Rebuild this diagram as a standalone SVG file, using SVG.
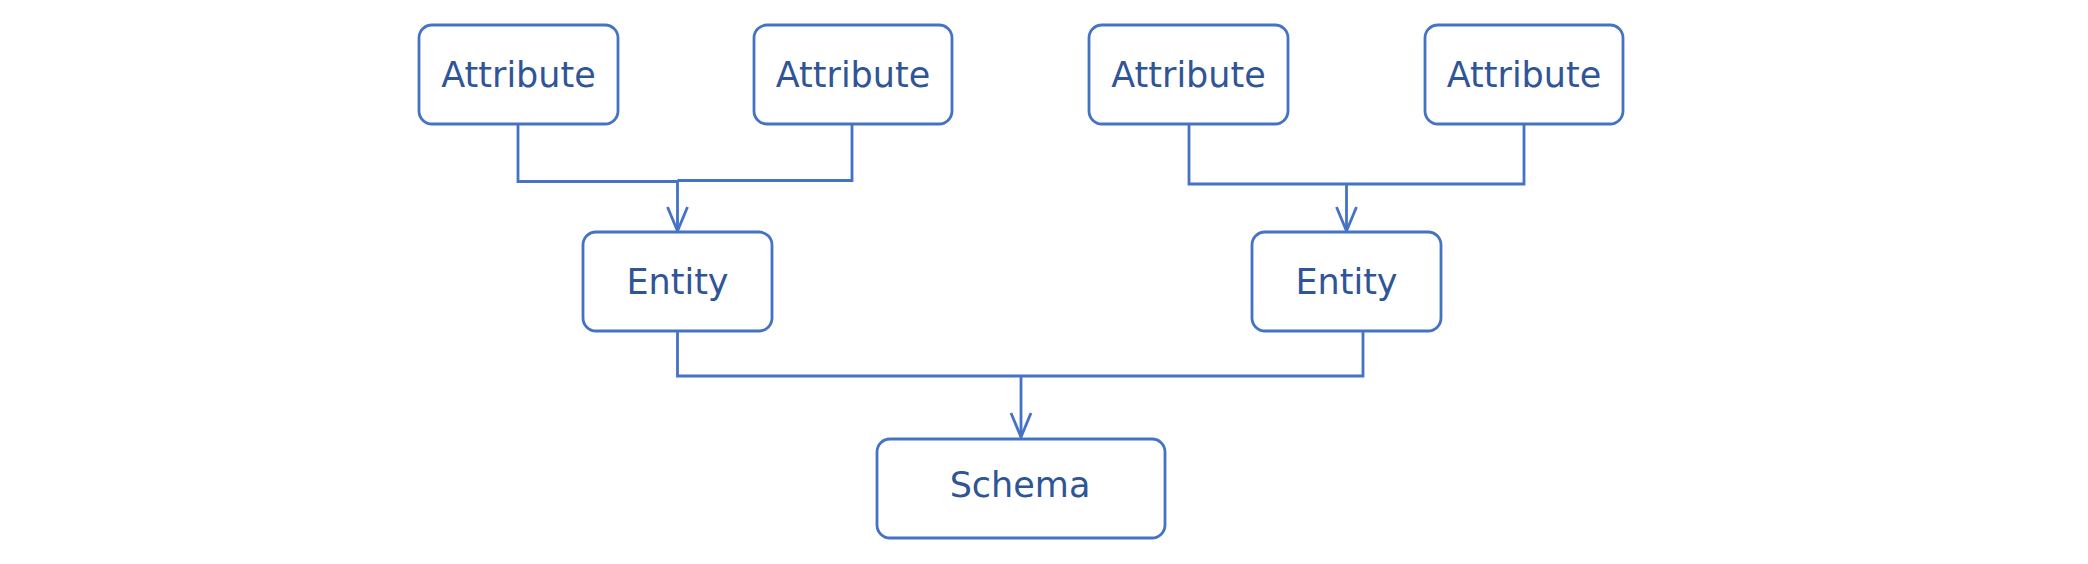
<svg xmlns="http://www.w3.org/2000/svg" width="2088" height="564" viewBox="0 0 2088 564">
<style>
.box{fill:#ffffff;stroke:#4472c4;stroke-width:2.8}
.lbl{font-family:"DejaVu Sans",Verdana,sans-serif;font-size:35px;fill:#2f5597;text-anchor:middle}
.conn{fill:none;stroke:#4472c4;stroke-width:2.8}
</style>
<defs>
<marker id="arr" viewBox="0 0 28 24" refX="26" refY="12" markerWidth="28" markerHeight="24" markerUnits="userSpaceOnUse" orient="auto">
<path d="M2,2 L26,12 L2,22" fill="none" stroke="#4472c4" stroke-width="2.8"/>
</marker>
</defs>
<rect width="2088" height="564" fill="#ffffff"/>
<g id="connectors">
<path class="conn" d="M518,124 V181.5 H677.5 V231" marker-end="url(#arr)"/>
<path class="conn" d="M852,124 V180.5 H677.5"/>
<path class="conn" d="M1189,124 V184 H1524 V124"/>
<path class="conn" d="M1346.5,184 V231" marker-end="url(#arr)"/>
<path class="conn" d="M677.5,331 V376 H1363 V331"/>
<path class="conn" d="M1021,376 V437" marker-end="url(#arr)"/>
</g>
<g id="attr1"><rect class="box" x="419" y="25" width="199" height="99" rx="13"/><text class="lbl" x="518.5" y="87">Attribute</text></g>
<g id="attr2"><rect class="box" x="754" y="25" width="198" height="99" rx="13"/><text class="lbl" x="853" y="87">Attribute</text></g>
<g id="attr3"><rect class="box" x="1089" y="25" width="199" height="99" rx="13"/><text class="lbl" x="1188.5" y="87">Attribute</text></g>
<g id="attr4"><rect class="box" x="1425" y="25" width="198" height="99" rx="13"/><text class="lbl" x="1524" y="87">Attribute</text></g>
<g id="entity1"><rect class="box" x="583" y="232" width="189" height="99" rx="13"/><text class="lbl" x="677.5" y="294">Entity</text></g>
<g id="entity2"><rect class="box" x="1252" y="232" width="189" height="99" rx="13"/><text class="lbl" x="1346.5" y="294">Entity</text></g>
<g id="schema"><rect class="box" x="877" y="439" width="288" height="99" rx="13"/><text class="lbl" x="1020" y="497">Schema</text></g>
</svg>
